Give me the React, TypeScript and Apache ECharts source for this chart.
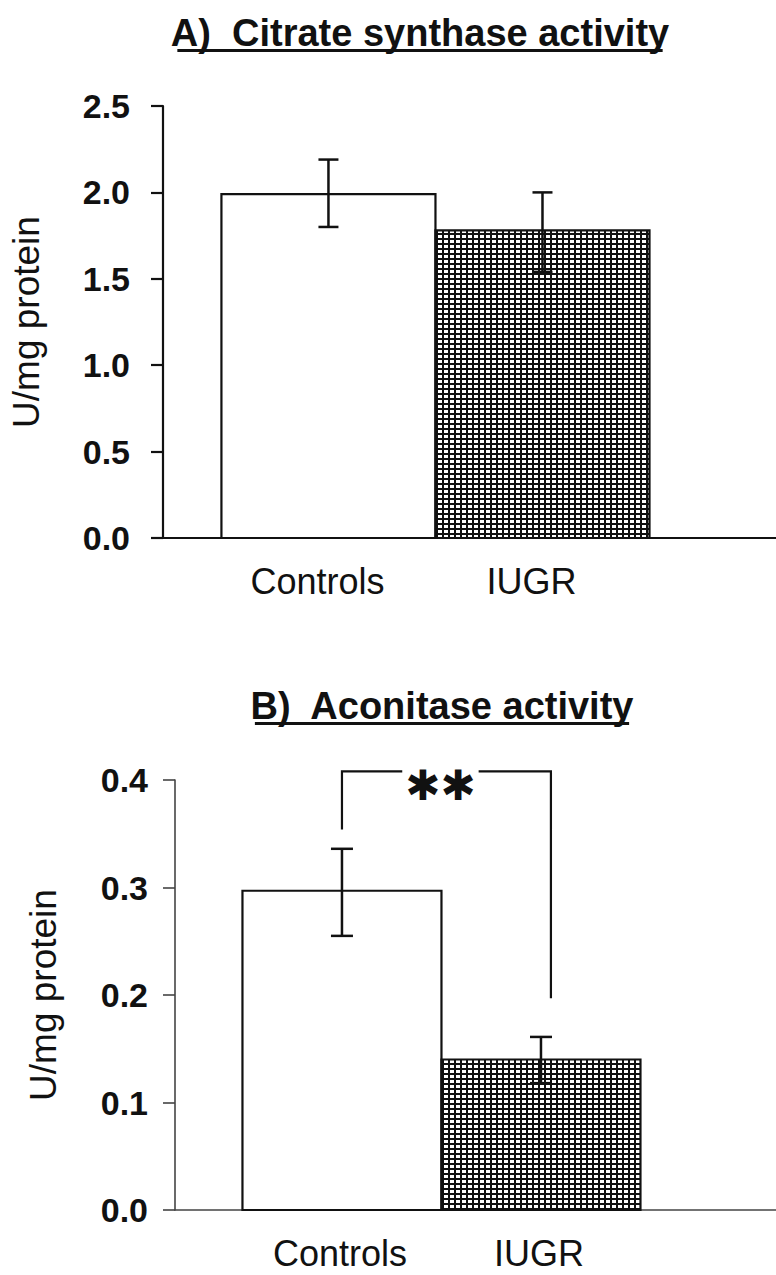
import React, { useEffect, useRef } from "react";
import * as echarts from "echarts";

// ---------- data ----------
const categories = ["Controls", "IUGR"];
const titleA = "A)  Citrate synthase activity";
const titleB = "B)  Aconitase activity";
const yName = "U/mg protein";

const csMeans = [1.99, 1.78];
const csLow = [1.8, 1.54];
const csHigh = [2.19, 2.0];
const csTicks = [0, 0.5, 1.0, 1.5, 2.0, 2.5];

const acoMeans = [0.297, 0.14];
const acoLow = [0.255, 0.118];
const acoHigh = [0.336, 0.161];
const acoTicks = [0, 0.1, 0.2, 0.3, 0.4];

// significance bracket: [x left, x right], [top, left end, right end]
const bracketX = [0, 1.05];
const bracketY = [0.408, 0.354, 0.197];
const sigLabel = "✱✱";

const FONT = '"Liberation Sans", Arial, sans-serif';
const INK = "#111";

export default function App() {
  const ref = useRef<HTMLDivElement>(null);

  useEffect(() => {
    document.body.style.margin = "0";
    const chart = echarts.init(ref.current!, null, { renderer: "svg" });

    // hatch pattern for IUGR bars
    const cv = document.createElement("canvas");
    cv.width = 6;
    cv.height = 5;
    const cx = cv.getContext("2d")!;
    cx.fillStyle = INK;
    cx.fillRect(0, 0, 6, 5);
    cx.fillStyle = "#fff";
    cx.fillRect(0, 0, 4, 3);
    const pattern: any = { image: cv, repeat: "repeat" };

    const mctx = document.createElement("canvas").getContext("2d")!;
    mctx.font = `bold 37px ${FONT}`;
    const wA = mctx.measureText(titleA).width;
    const wB = mctx.measureText(titleB).width;

    const barRender = (params: any, api: any) => {
      const x = api.value(0);
      const y = api.value(1);
      const p0 = api.coord([x - 0.5, 0]);
      const p1 = api.coord([x + 0.5, y]);
      return {
        type: "rect",
        shape: { x: p0[0], y: p1[1], width: p1[0] - p0[0], height: p0[1] - p1[1] },
        style: {
          fill: params.dataIndex === 0 ? "#fff" : pattern,
          stroke: INK,
          lineWidth: 2.2,
        },
      };
    };

    const errRender = (cap: number) => (params: any, api: any) => {
      const x = api.value(0);
      const lo = api.coord([x, api.value(1)]);
      const hi = api.coord([x, api.value(2)]);
      const st = { stroke: INK, lineWidth: 2.5 };
      return {
        type: "group",
        children: [
          { type: "line", shape: { x1: lo[0], y1: lo[1], x2: hi[0], y2: hi[1] }, style: st },
          { type: "line", shape: { x1: hi[0] - cap, y1: hi[1], x2: hi[0] + cap, y2: hi[1] }, style: st },
          { type: "line", shape: { x1: lo[0] - cap, y1: lo[1], x2: lo[0] + cap, y2: lo[1] }, style: st },
        ],
      };
    };

    const bracketRender = (params: any, api: any) => {
      const xl = api.value(0);
      const xr = api.value(1);
      const pTL = api.coord([xl, api.value(2)]);
      const pBL = api.coord([xl, api.value(3)]);
      const pTR = api.coord([xr, api.value(2)]);
      const pBR = api.coord([xr, api.value(4)]);
      const st = { stroke: INK, lineWidth: 2.2, fill: null };
      return {
        type: "group",
        children: [
          {
            type: "polyline",
            shape: { points: [pBL, pTL, pTR, pBR] },
            style: st,
          },
          {
            type: "text",
            x: (pTL[0] + pTR[0]) / 2 - 6,
            y: pTL[1] + 14,
            style: {
              text: sigLabel,
              font: `bold 42px "DejaVu Sans", sans-serif`,
              fill: INK,
              align: "center",
              verticalAlign: "middle",
              backgroundColor: "#fff",
              padding: [0, 3, 0, 3],
            },
          },
        ],
      };
    };

    const yAxisBase = (ticks: number[], margin: number, gap: number, lineColor: string, lw: number) => ({
      type: "value",
      min: ticks[0],
      max: ticks[ticks.length - 1],
      interval: ticks[1] - ticks[0],
      name: yName,
      nameLocation: "middle",
      nameRotate: 90,
      nameGap: gap,
      nameTextStyle: { fontFamily: FONT, fontSize: 37, color: INK },
      axisLine: { show: true, onZero: false, lineStyle: { color: lineColor, width: lw } },
      axisTick: { show: true, inside: false, length: 12, lineStyle: { color: lineColor, width: lw } },
      splitLine: { show: false },
      axisLabel: {
        margin,
        fontFamily: FONT,
        fontWeight: "bold",
        fontSize: 34,
        color: INK,
        padding: [0, 0, 4, 0],
        formatter: (v: number) => v.toFixed(1),
      },
    });

    const xAxisBase = (min: number, max: number, lineColor: string, lw: number, shift: number) => ({
      type: "value",
      min,
      max,
      axisLine: { show: true, onZero: false, lineStyle: { color: lineColor, width: lw } },
      axisTick: { show: false },
      splitLine: { show: false },
      axisLabel: {
        customValues: [0, 1],
        margin: 25,
        fontFamily: FONT,
        fontSize: 36,
        color: INK,
        padding: [0, shift, 0, 0],
        formatter: (v: number) => categories[Math.round(v)] ?? "",
      },
    });

    chart.setOption({
      animation: false,
      backgroundColor: "#fff",
      grid: [
        { left: 163, top: 106, width: 613, height: 432 },
        { left: 175, top: 780, width: 601, height: 430 },
      ],
      xAxis: [
        { gridIndex: 0, ...xAxisBase(-0.773, 2.091, INK, 2.2, 22) },
        { gridIndex: 1, ...xAxisBase(-0.839, 2.181, "#444", 1.6, 4) },
      ],
      yAxis: [
        { gridIndex: 0, ...yAxisBase(csTicks, 33, 118, INK, 2.2) },
        { gridIndex: 1, ...yAxisBase(acoTicks, 27, 113, "#444", 1.6) },
      ],
      graphic: [
        {
          type: "text",
          x: 420,
          y: 33,
          style: { text: titleA, font: `bold 38px ${FONT}`, fill: INK, align: "center", verticalAlign: "middle" },
        },
        { type: "rect", shape: { x: 420 - wA / 2, y: 49, width: wA, height: 3 }, style: { fill: INK } },
        {
          type: "text",
          x: 442,
          y: 706,
          style: { text: titleB, font: `bold 38px ${FONT}`, fill: INK, align: "center", verticalAlign: "middle" },
        },
        { type: "rect", shape: { x: 442 - wB / 2, y: 722, width: wB, height: 3 }, style: { fill: INK } },
      ],
      series: [
        {
          type: "custom",
          xAxisIndex: 0,
          yAxisIndex: 0,
          clip: false,
          renderItem: barRender,
          encode: { x: 0, y: 1 },
          data: csMeans.map((v, i) => [i, v]),
        },
        {
          type: "custom",
          xAxisIndex: 0,
          yAxisIndex: 0,
          clip: false,
          renderItem: errRender(10),
          encode: { x: 0, y: [1, 2] },
          data: csMeans.map((_, i) => [i, csLow[i], csHigh[i]]),
        },
        {
          type: "custom",
          xAxisIndex: 1,
          yAxisIndex: 1,
          clip: false,
          renderItem: barRender,
          encode: { x: 0, y: 1 },
          data: acoMeans.map((v, i) => [i, v]),
        },
        {
          type: "custom",
          xAxisIndex: 1,
          yAxisIndex: 1,
          clip: false,
          renderItem: errRender(11),
          encode: { x: 0, y: [1, 2] },
          data: acoMeans.map((_, i) => [i, acoLow[i], acoHigh[i]]),
        },
        {
          type: "custom",
          xAxisIndex: 1,
          yAxisIndex: 1,
          clip: false,
          renderItem: bracketRender,
          encode: { x: [0, 1], y: [2, 3, 4] },
          data: [[bracketX[0], bracketX[1], bracketY[0], bracketY[1], bracketY[2]]],
        },
      ],
    });

    return () => chart.dispose();
  }, []);

  return <div ref={ref} style={{ width: 776, height: 1275 }} />;
}
